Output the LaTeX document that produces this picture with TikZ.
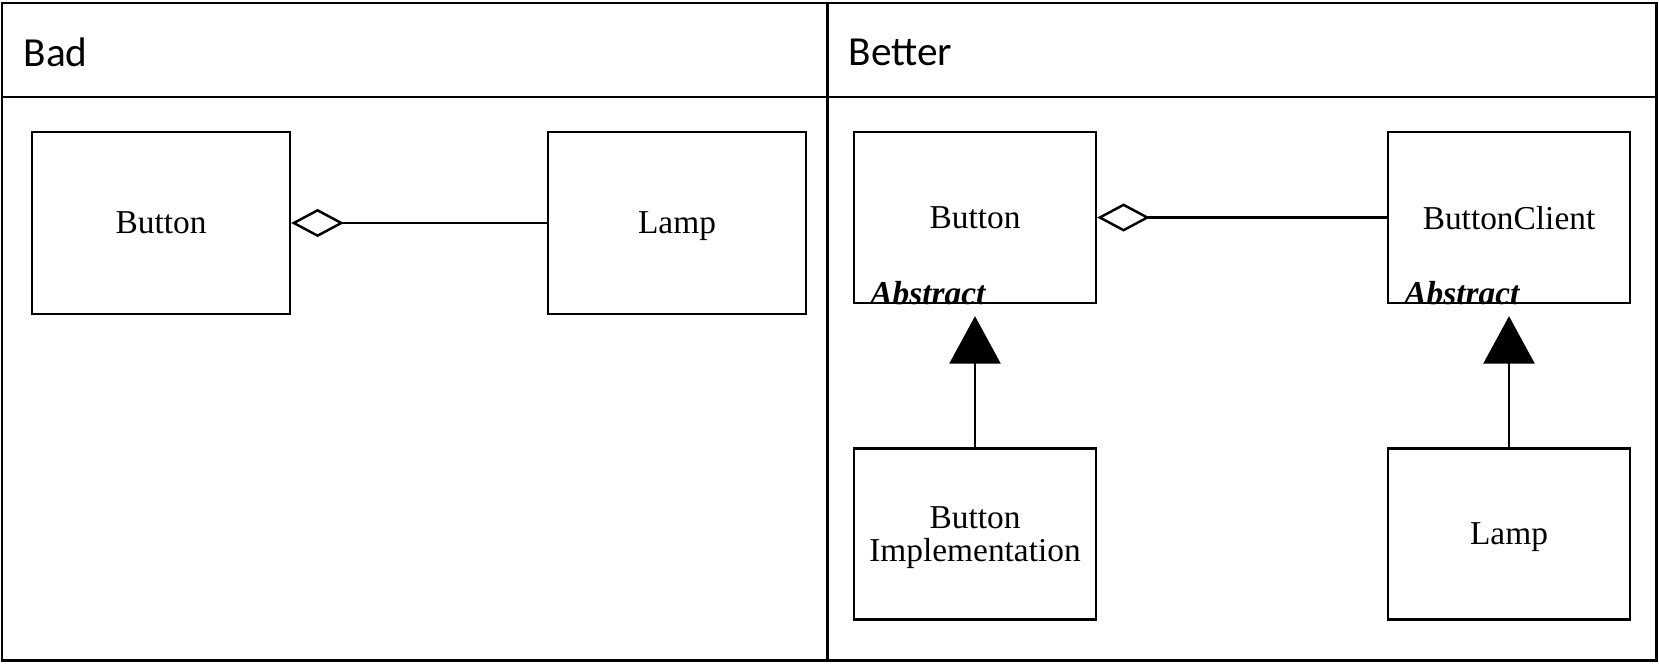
\documentclass[tikz,border=0pt]{standalone}
\usepackage{fontspec}
\setmainfont{Liberation Serif}
\newfontfamily\headfont{Carlito}
\usetikzlibrary{arrows.meta}

\begin{document}
\begin{tikzpicture}[x=0.02cm, y=-0.02cm, thick,
  cls/.style={draw, line width=1.4pt, minimum width=4.84cm, minimum height=3.42cm,
    inner sep=0pt, align=center, text depth=0pt, font=\fontsize{19}{18.5}\selectfont},
  bigcls/.style={cls, minimum width=5.16cm, minimum height=3.64cm},
  abstractlbl/.style={anchor=base west, inner sep=0pt,
    font=\fontsize{19}{19}\selectfont\bfseries\itshape},
  head/.style={anchor=west, inner sep=0pt, font=\headfont\fontsize{23.5}{26}\selectfont},
  agg/.style={{Diamond[open, length=30pt, width=16pt]}-, line width=1.4pt},
  inherit/.style={-{Triangle[length=27pt, width=29pt]}, line width=1.4pt, shorten >=6.8pt}]
\useasboundingbox (0,0) rectangle (1659,663);
% table frame
\draw[line width=1.7pt] (2,3) rectangle (1656,660);
\draw[line width=1.7pt] (2,97) -- (1656,97);
\draw[line width=1.7pt] (827,3) -- (827,660);
\node[head] (hBad) at (23,52) {Bad};
\node[head] (hBetter) at (848,52) {Better};

% bad design
\node[bigcls] (badBtn) at (161,223) {Button};
\node[bigcls] (badLamp) at (677,223) {Lamp};
\draw[agg] (badBtn.east) -- (badLamp.west);

% better design
\node[cls] (btn) at (975,217.5) {Button};
\node[cls] (client) at (1509,217.5) {ButtonClient};
\node[cls] (impl) at (975,534) {Button\\Implementation};
\node[cls] (lamp) at (1509,534) {Lamp};
\node[abstractlbl] (btnAbs) at ([xshift=9.6pt]btn.south west) {Abstract};
\node[abstractlbl] (clientAbs) at ([xshift=9.6pt]client.south west) {Abstract};
\draw[agg] (btn.east) -- (client.west);
\draw[inherit] (impl) -- (btn);
\draw[inherit] (lamp) -- (client);
\end{tikzpicture}
\end{document}
